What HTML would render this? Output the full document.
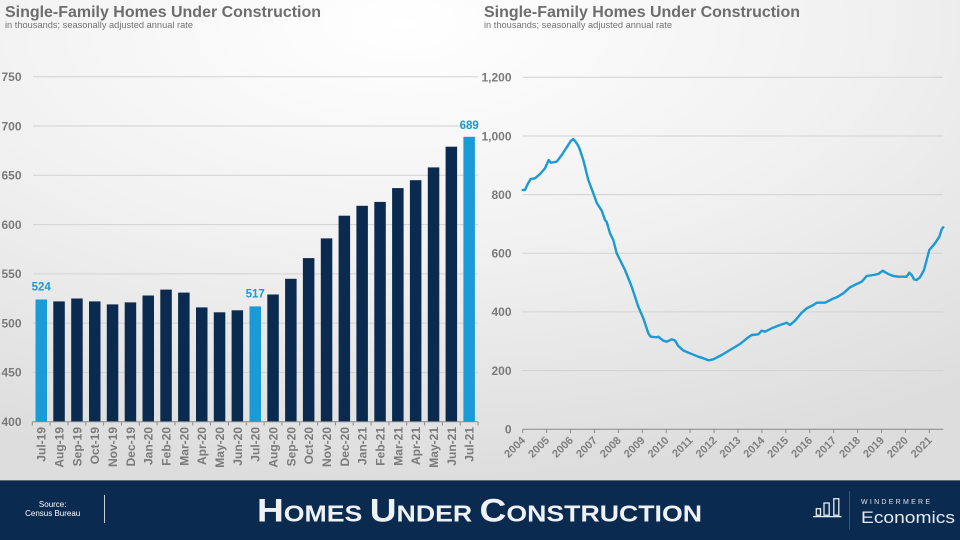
<!DOCTYPE html>
<html><head><meta charset="utf-8"><style>
html,body{margin:0;padding:0;}
body{width:960px;height:540px;overflow:hidden;background:#e6e6e6;}
svg{display:block;}
</style></head><body>
<svg width="960" height="540" viewBox="0 0 960 540" xmlns="http://www.w3.org/2000/svg" font-family="Liberation Sans, Arial, sans-serif">
<defs>
<radialGradient id="bg" cx="0.42" cy="0.05" r="0.95" gradientUnits="objectBoundingBox">
<stop offset="0" stop-color="#ffffff"/>
<stop offset="0.5" stop-color="#f1f1f1"/>
<stop offset="1" stop-color="#dddddd"/>
</radialGradient>
</defs>
<rect x="0" y="0" width="960" height="480" fill="url(#bg)"/>

<!-- Titles -->
<text x="5" y="17" font-size="16" font-weight="bold" fill="#6d6d6d" textLength="316" lengthAdjust="spacingAndGlyphs">Single-Family Homes Under Construction</text>
<text x="5" y="28" font-size="9" fill="#727272" textLength="188" lengthAdjust="spacingAndGlyphs">in thousands; seasonally adjusted annual rate</text>
<text x="484" y="17" font-size="16" font-weight="bold" fill="#6d6d6d" textLength="316" lengthAdjust="spacingAndGlyphs">Single-Family Homes Under Construction</text>
<text x="484" y="28" font-size="9" fill="#727272" textLength="188" lengthAdjust="spacingAndGlyphs">in thousands; seasonally adjusted annual rate</text>

<!-- LEFT CHART gridlines -->
<g stroke="#d2d2d2" stroke-width="1">
<line x1="33" y1="76.7" x2="478" y2="76.7"/>
<line x1="33" y1="126" x2="478" y2="126"/>
<line x1="33" y1="175.3" x2="478" y2="175.3"/>
<line x1="33" y1="224.6" x2="478" y2="224.6"/>
<line x1="33" y1="273.9" x2="478" y2="273.9"/>
<line x1="33" y1="323.1" x2="478" y2="323.1"/>
<line x1="33" y1="372.4" x2="478" y2="372.4"/>
</g>
<g font-size="12" font-weight="bold" fill="#7a7a7a" text-anchor="end">
<text x="21.5" y="81">750</text>
<text x="21.5" y="130.3">700</text>
<text x="21.5" y="179.6">650</text>
<text x="21.5" y="228.9">600</text>
<text x="21.5" y="278.2">550</text>
<text x="21.5" y="327.4">500</text>
<text x="21.5" y="376.7">450</text>
<text x="21.5" y="426">400</text>
</g>

<!-- Bars -->
<g fill="#0b2a4f">
<rect x="53.3" y="301.4" width="11.5" height="120.3"/>
<rect x="71.2" y="298.5" width="11.5" height="123.2"/>
<rect x="89.0" y="301.4" width="11.5" height="120.3"/>
<rect x="106.8" y="304.4" width="11.5" height="117.3"/>
<rect x="124.7" y="302.4" width="11.5" height="119.3"/>
<rect x="142.5" y="295.5" width="11.5" height="126.2"/>
<rect x="160.3" y="289.6" width="11.5" height="132.1"/>
<rect x="178.1" y="292.6" width="11.5" height="129.1"/>
<rect x="196.0" y="307.4" width="11.5" height="114.3"/>
<rect x="213.8" y="312.3" width="11.5" height="109.4"/>
<rect x="231.6" y="310.3" width="11.5" height="111.4"/>
<rect x="267.3" y="294.5" width="11.5" height="127.2"/>
<rect x="285.1" y="278.8" width="11.5" height="142.9"/>
<rect x="302.9" y="258.1" width="11.5" height="163.6"/>
<rect x="320.8" y="238.4" width="11.5" height="183.3"/>
<rect x="338.6" y="215.7" width="11.5" height="206.0"/>
<rect x="356.4" y="205.8" width="11.5" height="215.9"/>
<rect x="374.3" y="201.9" width="11.5" height="219.8"/>
<rect x="392.1" y="188.1" width="11.5" height="233.6"/>
<rect x="409.9" y="180.2" width="11.5" height="241.5"/>
<rect x="427.8" y="167.4" width="11.5" height="254.3"/>
<rect x="445.6" y="146.7" width="11.5" height="275.0"/>
</g>
<g fill="#1a9ad6">
<rect x="35.5" y="299.5" width="11.5" height="122.2"/>
<rect x="249.5" y="306.4" width="11.5" height="115.3"/>
<rect x="463.4" y="136.8" width="11.5" height="284.9"/>
</g>
<g font-size="11.5" font-weight="bold" fill="#1a9ad6" text-anchor="middle">
<text x="41.2" y="290.7">524</text>
<text x="255.2" y="297.3">517</text>
<text x="469.2" y="129">689</text>
</g>

<!-- Left axis -->
<line x1="32.3" y1="421.7" x2="478" y2="421.7" stroke="#8a8a8a" stroke-width="1"/>
<g stroke="#8a8a8a" stroke-width="1">
<line x1="32.3" y1="421.7" x2="32.3" y2="425.5"/><line x1="50.1" y1="421.7" x2="50.1" y2="425.5"/><line x1="68.0" y1="421.7" x2="68.0" y2="425.5"/><line x1="85.8" y1="421.7" x2="85.8" y2="425.5"/><line x1="103.6" y1="421.7" x2="103.6" y2="425.5"/><line x1="121.5" y1="421.7" x2="121.5" y2="425.5"/><line x1="139.3" y1="421.7" x2="139.3" y2="425.5"/><line x1="157.1" y1="421.7" x2="157.1" y2="425.5"/><line x1="174.9" y1="421.7" x2="174.9" y2="425.5"/><line x1="192.8" y1="421.7" x2="192.8" y2="425.5"/><line x1="210.6" y1="421.7" x2="210.6" y2="425.5"/><line x1="228.4" y1="421.7" x2="228.4" y2="425.5"/><line x1="246.3" y1="421.7" x2="246.3" y2="425.5"/><line x1="264.1" y1="421.7" x2="264.1" y2="425.5"/><line x1="281.9" y1="421.7" x2="281.9" y2="425.5"/><line x1="299.8" y1="421.7" x2="299.8" y2="425.5"/><line x1="317.6" y1="421.7" x2="317.6" y2="425.5"/><line x1="335.4" y1="421.7" x2="335.4" y2="425.5"/><line x1="353.2" y1="421.7" x2="353.2" y2="425.5"/><line x1="371.1" y1="421.7" x2="371.1" y2="425.5"/><line x1="388.9" y1="421.7" x2="388.9" y2="425.5"/><line x1="406.7" y1="421.7" x2="406.7" y2="425.5"/><line x1="424.6" y1="421.7" x2="424.6" y2="425.5"/><line x1="442.4" y1="421.7" x2="442.4" y2="425.5"/><line x1="460.2" y1="421.7" x2="460.2" y2="425.5"/><line x1="478.0" y1="421.7" x2="478.0" y2="425.5"/>
</g>
<g font-size="12" font-weight="bold" fill="#7a7a7a" text-anchor="end">
<text transform="translate(45.7,427) rotate(-90)">Jul-19</text>
<text transform="translate(63.6,427) rotate(-90)">Aug-19</text>
<text transform="translate(81.4,427) rotate(-90)">Sep-19</text>
<text transform="translate(99.2,427) rotate(-90)">Oct-19</text>
<text transform="translate(117.1,427) rotate(-90)">Nov-19</text>
<text transform="translate(134.9,427) rotate(-90)">Dec-19</text>
<text transform="translate(152.7,427) rotate(-90)">Jan-20</text>
<text transform="translate(170.5,427) rotate(-90)">Feb-20</text>
<text transform="translate(188.4,427) rotate(-90)">Mar-20</text>
<text transform="translate(206.2,427) rotate(-90)">Apr-20</text>
<text transform="translate(224.0,427) rotate(-90)">May-20</text>
<text transform="translate(241.9,427) rotate(-90)">Jun-20</text>
<text transform="translate(259.7,427) rotate(-90)">Jul-20</text>
<text transform="translate(277.5,427) rotate(-90)">Aug-20</text>
<text transform="translate(295.4,427) rotate(-90)">Sep-20</text>
<text transform="translate(313.2,427) rotate(-90)">Oct-20</text>
<text transform="translate(331.0,427) rotate(-90)">Nov-20</text>
<text transform="translate(348.8,427) rotate(-90)">Dec-20</text>
<text transform="translate(366.7,427) rotate(-90)">Jan-21</text>
<text transform="translate(384.5,427) rotate(-90)">Feb-21</text>
<text transform="translate(402.3,427) rotate(-90)">Mar-21</text>
<text transform="translate(420.2,427) rotate(-90)">Apr-21</text>
<text transform="translate(438.0,427) rotate(-90)">May-21</text>
<text transform="translate(455.8,427) rotate(-90)">Jun-21</text>
<text transform="translate(473.6,427) rotate(-90)">Jul-21</text>
</g>

<!-- RIGHT CHART -->
<g stroke="#d2d2d2" stroke-width="1">
<line x1="522.7" y1="77.3" x2="943" y2="77.3"/>
<line x1="522.7" y1="136" x2="943" y2="136"/>
<line x1="522.7" y1="194.6" x2="943" y2="194.6"/>
<line x1="522.7" y1="253.3" x2="943" y2="253.3"/>
<line x1="522.7" y1="311.9" x2="943" y2="311.9"/>
<line x1="522.7" y1="370.6" x2="943" y2="370.6"/>
</g>
<g font-size="12" font-weight="bold" fill="#7a7a7a" text-anchor="end">
<text x="511.5" y="81.6">1,200</text>
<text x="511.5" y="140.3">1,000</text>
<text x="511.5" y="198.9">800</text>
<text x="511.5" y="257.6">600</text>
<text x="511.5" y="316.2">400</text>
<text x="511.5" y="374.9">200</text>
<text x="511.5" y="433.5">0</text>
</g>
<line x1="522.7" y1="429.3" x2="943.3" y2="429.3" stroke="#8a8a8a" stroke-width="1"/>
<g stroke="#8a8a8a" stroke-width="1">
<line x1="522.7" y1="429.3" x2="522.7" y2="433"/><line x1="546.6" y1="429.3" x2="546.6" y2="433"/><line x1="570.5" y1="429.3" x2="570.5" y2="433"/><line x1="594.5" y1="429.3" x2="594.5" y2="433"/><line x1="618.4" y1="429.3" x2="618.4" y2="433"/><line x1="642.3" y1="429.3" x2="642.3" y2="433"/><line x1="666.2" y1="429.3" x2="666.2" y2="433"/><line x1="690.1" y1="429.3" x2="690.1" y2="433"/><line x1="714.1" y1="429.3" x2="714.1" y2="433"/><line x1="738.0" y1="429.3" x2="738.0" y2="433"/><line x1="761.9" y1="429.3" x2="761.9" y2="433"/><line x1="785.8" y1="429.3" x2="785.8" y2="433"/><line x1="809.7" y1="429.3" x2="809.7" y2="433"/><line x1="833.7" y1="429.3" x2="833.7" y2="433"/><line x1="857.6" y1="429.3" x2="857.6" y2="433"/><line x1="881.5" y1="429.3" x2="881.5" y2="433"/><line x1="905.4" y1="429.3" x2="905.4" y2="433"/><line x1="929.3" y1="429.3" x2="929.3" y2="433"/>
</g>
<g font-size="11" font-weight="bold" fill="#7f7f7f" text-anchor="end">
<text transform="translate(526,441) rotate(-45)">2004</text>
<text transform="translate(549.9,441) rotate(-45)">2005</text>
<text transform="translate(573.8,441) rotate(-45)">2006</text>
<text transform="translate(597.8,441) rotate(-45)">2007</text>
<text transform="translate(621.7,441) rotate(-45)">2008</text>
<text transform="translate(645.6,441) rotate(-45)">2009</text>
<text transform="translate(669.5,441) rotate(-45)">2010</text>
<text transform="translate(693.4,441) rotate(-45)">2011</text>
<text transform="translate(717.4,441) rotate(-45)">2012</text>
<text transform="translate(741.3,441) rotate(-45)">2013</text>
<text transform="translate(765.2,441) rotate(-45)">2014</text>
<text transform="translate(789.1,441) rotate(-45)">2015</text>
<text transform="translate(813.0,441) rotate(-45)">2016</text>
<text transform="translate(837.0,441) rotate(-45)">2017</text>
<text transform="translate(860.9,441) rotate(-45)">2018</text>
<text transform="translate(884.8,441) rotate(-45)">2019</text>
<text transform="translate(908.7,441) rotate(-45)">2020</text>
<text transform="translate(932.6,441) rotate(-45)">2021</text>
</g>
<polyline fill="none" stroke="#1a9ad6" stroke-width="2.4" stroke-linejoin="round" stroke-linecap="round" points="
522.7,190 525,190 527.7,184 530.7,179 535,178.3 540,174 545,168.3 548.7,160 550.7,162.7 556.7,161.7 561.7,155 566.7,147.3 570.7,141 573.3,139 576.7,143.3 579,147.3 583.3,160 588.3,180 593.3,193.3 596.7,202.7 601.7,210.7 605,220 606.7,222 610,233.3 613.3,240 616.7,253.3 625,270 631.7,286.7 638.3,306.7 643.3,318.3 648.3,333.3 650.7,336.7 656.7,337.3 658.3,336.7 663.3,340.7 666.7,341.7 671.7,339.3 675,340.5 678.3,346 683.3,350.5 690,353.3 698.3,356.7 703.3,358.3 708.3,360.3 713.3,359.3 721.7,355 730,350 740,344 748.3,337.3 751.7,335 758.3,334.3 761.7,330.7 765,331.7 771.7,328.3 780,325 786.7,322.7 790,325 795,320.7 801.7,312.7 806.7,308.3 813.3,305 816.7,302.7 825,302.7 831.7,299.3 836.7,297.3 843.3,293.3 850,287.3 856.7,284 861.7,281.7 866.7,276 873.3,275 878.3,274 882.7,270.7 888.3,274 893.3,276 898.3,276.7 906.7,276.7 909.3,272.7 911.7,275 914,279.3 916.7,280 920,277.3 924,270 929.3,250 935,243.3 939.3,236.7 941.7,229.3 943.3,227.3"/>

<!-- FOOTER -->
<rect x="0" y="480" width="960" height="60" fill="#0a2a4f"/>
<line x1="0" y1="480.5" x2="960" y2="480.5" stroke="#5d6875" stroke-width="1"/>
<g font-size="8" fill="#ffffff" text-anchor="middle">
<text x="52.7" y="507">Source:</text>
<text x="52.7" y="516">Census Bureau</text>
</g>
<line x1="104.5" y1="495" x2="104.5" y2="523" stroke="#c8ced6" stroke-width="1"/>
<text x="257" y="521.7" font-weight="bold" fill="#eef1f5" textLength="445" lengthAdjust="spacingAndGlyphs"><tspan font-size="32">H</tspan><tspan font-size="23">OMES </tspan><tspan font-size="32">U</tspan><tspan font-size="23">NDER </tspan><tspan font-size="32">C</tspan><tspan font-size="23">ONSTRUCTION</tspan></text>
<!-- logo -->
<g fill="none" stroke="#e6ebf0" stroke-width="1.3">
<rect x="816.3" y="508.7" width="4.2" height="6.5"/>
<rect x="824" y="503" width="5.2" height="12.2"/>
<rect x="833.8" y="498.7" width="5" height="16.5"/>
</g>
<line x1="813" y1="516.6" x2="841.5" y2="516.6" stroke="#e6ebf0" stroke-width="1.3"/>
<line x1="849.5" y1="491" x2="849.5" y2="529.5" stroke="#3d5675" stroke-width="1"/>
<text x="861" y="504.2" font-size="7" fill="#dde3ea" textLength="69" lengthAdjust="spacing">WINDERMERE</text>
<text x="861" y="523" font-size="17" fill="#e6ebf0" textLength="94" lengthAdjust="spacingAndGlyphs">Economics</text>
</svg>
</body></html>
